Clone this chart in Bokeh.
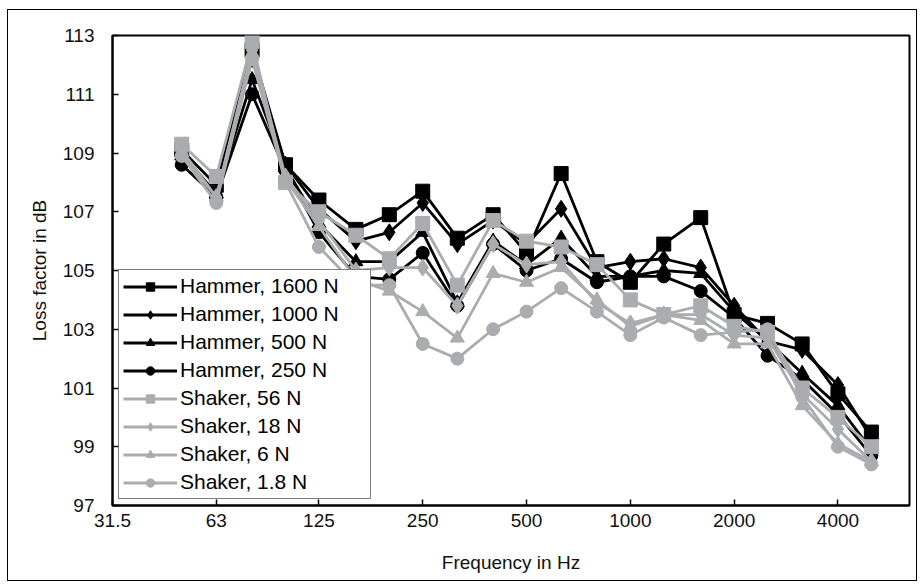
from bokeh.plotting import figure
from bokeh.models import FixedTicker, Legend, LegendItem, Range1d
from bokeh.embed import file_html
from bokeh.resources import INLINE

freqs = [50, 63, 80, 100, 125, 160, 200, 250, 315, 400, 500, 630, 800, 1000,
         1250, 1600, 2000, 2500, 3150, 4000, 5000]

hammer_1600 = [109.1, 107.9, 112.5, 108.6, 107.4, 106.4, 106.9, 107.7, 106.1, 106.9, 105.6,
               108.3, 105.3, 104.6, 105.9, 106.8, 103.5, 103.2, 102.5, 100.8, 99.5]
hammer_1000 = [109.0, 107.6, 112.2, 108.6, 107.1, 106.0, 106.3, 107.3, 105.9, 106.7, 105.9,
               107.1, 105.1, 105.3, 105.4, 105.1, 103.8, 102.6, 102.3, 101.1, 99.3]
hammer_500 = [108.9, 107.6, 111.5, 108.5, 106.6, 105.3, 105.3, 106.3, 103.9, 106.0, 105.2,
              106.1, 104.8, 104.8, 105.0, 104.9, 103.6, 102.6, 101.5, 100.4, 98.9]
hammer_250 = [108.6, 107.5, 111.0, 108.4, 106.3, 104.8, 104.7, 105.6, 103.8, 105.9, 105.0,
              105.4, 104.6, 104.8, 104.8, 104.3, 103.4, 102.1, 101.3, 100.1, 98.7]
shaker_56 = [109.3, 108.2, 112.8, 108.0, 107.0, 106.2, 105.4, 106.6, 104.5, 106.7, 106.0,
             105.8, 105.2, 104.0, 103.5, 103.8, 103.1, 102.9, 101.0, 100.0, 99.0]
shaker_18 = [109.1, 107.5, 112.5, 108.2, 106.7, 105.0, 105.1, 105.1, 103.8, 105.9, 105.2,
             105.3, 103.9, 103.2, 103.5, 103.5, 102.8, 102.7, 100.8, 99.6, 98.5]
shaker_6 = [109.0, 107.5, 112.4, 108.1, 106.5, 104.7, 104.3, 103.6, 102.7, 104.9, 104.6,
            105.1, 104.0, 103.1, 103.5, 103.3, 102.5, 102.5, 100.4, 99.1, 98.5]
shaker_1_8 = [108.9, 107.3, 112.2, 108.0, 105.8, 104.5, 104.5, 102.5, 102.0, 103.0, 103.6,
              104.4, 103.6, 102.8, 103.4, 102.8, 102.9, 103.0, 100.7, 99.0, 98.4]

series_names = ["Hammer, 1600 N", "Hammer, 1000 N", "Hammer, 500 N", "Hammer, 250 N",
                "Shaker, 56 N", "Shaker, 18 N", "Shaker, 6 N", "Shaker, 1.8 N"]
series_values = [hammer_1600, hammer_1000, hammer_500, hammer_250,
                 shaker_56, shaker_18, shaker_6, shaker_1_8]

x_ticks = [31.5, 63, 125, 250, 500, 1000, 2000, 4000]
x_tick_labels = ["31.5", "63", "125", "250", "500", "1000", "2000", "4000"]
y_ticks = [97, 99, 101, 103, 105, 107, 109, 111, 113]

BLACK = "#000000"
GRAY = "#aaacaf"
FONT = "Liberation Sans"

styles = [
    (BLACK, "square", 14),
    (BLACK, "diamond", 17),
    (BLACK, "triangle", 14),
    (BLACK, "circle", 13),
    (GRAY, "square", 14),
    (GRAY, "diamond", 17),
    (GRAY, "triangle", 14),
    (GRAY, "circle", 13),
]

p = figure(width=908, height=570, x_axis_type="log",
           x_range=Range1d(31.5, 6450), y_range=Range1d(97, 113),
           output_backend="svg", toolbar_location=None,
           min_border_left=104, min_border_right=7, min_border_top=25, min_border_bottom=75)
p.margin = (10, 0, 0, 8)
p.styles = {"outline": "1.5px solid black"}

p.xgrid.visible = False
p.ygrid.visible = False
p.outline_line_color = "black"
p.outline_line_width = 2
p.outline_line_alpha = 1

items = []
for name, vals, (col, mk, sz) in zip(series_names, series_values, styles):
    ln = p.line(freqs, vals, line_color=col, line_width=2.8)
    sc = p.scatter(freqs, vals, marker=mk, size=sz, fill_color=col, line_color=col)
    items.append(LegendItem(label=name, renderers=[ln, sc]))

legend = Legend(items=items, location="bottom_left", margin=6, padding=4, spacing=4,
                label_text_font=FONT, label_text_font_size="21px", label_text_color="black",
                glyph_width=54, glyph_height=21, label_height=21, label_standoff=3,
                label_width=186,
                border_line_color="black", border_line_width=1.5,
                background_fill_color="white", background_fill_alpha=1)
p.add_layout(legend, "center")

p.xaxis.ticker = FixedTicker(ticks=x_ticks)
p.xaxis.major_label_overrides = {t: l for t, l in zip(x_ticks, x_tick_labels)}
p.yaxis.ticker = FixedTicker(ticks=y_ticks)

for ax in (p.xaxis[0], p.yaxis[0]):
    ax.axis_line_color = "black"
    ax.axis_line_width = 2
    ax.major_tick_line_color = "black"
    ax.major_tick_line_width = 1.5
    ax.major_tick_in = 6
    ax.major_tick_out = 0
    ax.minor_tick_line_color = None
    ax.major_label_text_font = FONT
    ax.major_label_text_font_size = "19px"
    ax.major_label_text_color = "#111111"
    ax.axis_label_text_font = FONT
    ax.axis_label_text_font_size = "19px"
    ax.axis_label_text_font_style = "normal"
    ax.axis_label_text_color = "#111111"

p.xaxis.axis_label = "Frequency in Hz"
p.yaxis.axis_label = "Loss factor in dB"
p.xaxis.major_label_standoff = 8
p.yaxis.major_label_standoff = 18
p.xaxis.axis_label_standoff = 22
p.yaxis.axis_label_standoff = 10

open("out.html", "w").write(file_html(p, INLINE))
